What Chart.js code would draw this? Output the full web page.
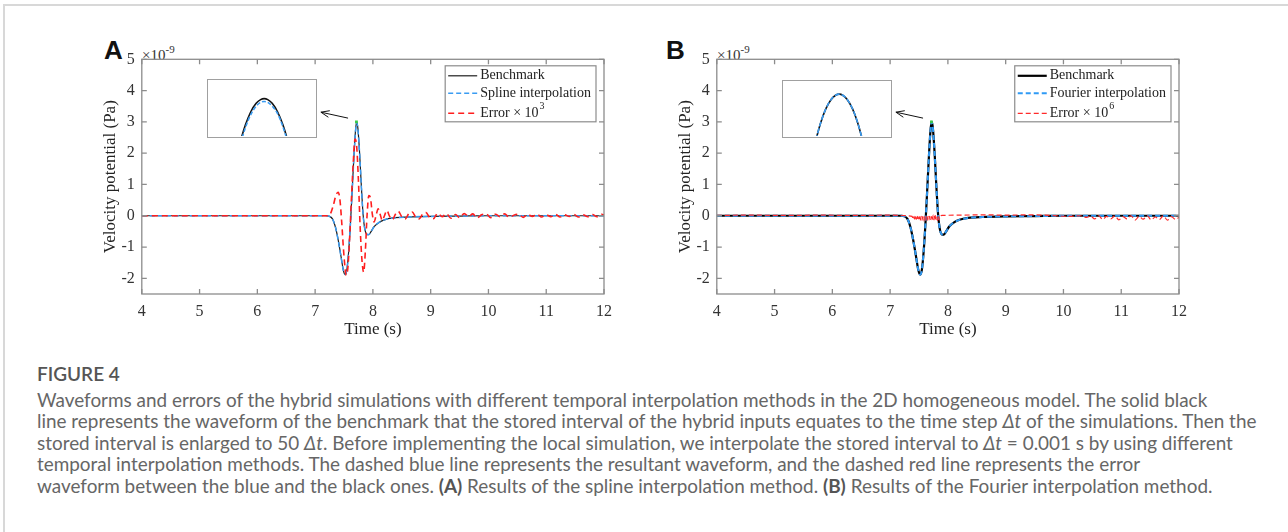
<!DOCTYPE html>
<html>
<head>
<meta charset="utf-8">
<script src="https://cdn.jsdelivr.net/npm/chart.js@4.4.0/dist/chart.umd.min.js"></script>
<style>
html, body { margin: 0; padding: 0; background: #fff; }
body { width: 1288px; height: 532px; position: relative; overflow: hidden; }
.frame { position: absolute; left: 3px; top: 4px; right: -4px; bottom: -4px; border-top: 2px solid #d8d8d8; border-left: 2px solid #d8d8d8; }
.panel { position: absolute; top: 30px; }
#panelA { left: 60px; }
#panelB { left: 635px; }
.inset { position: absolute; box-sizing: border-box; border: 1.5px solid #a0a0a0; background: #fff; }
.inset canvas { display: block; }
.tag { position: absolute; top: 37px; font: bold 26px "Liberation Sans", Arial, sans-serif; line-height: 1; color: #111; }
.exp { position: absolute; top: 44px; font: 15px "Liberation Serif", serif; line-height: 1; color: #333; }
.exp span { font-size: 11px; vertical-align: 7px; }
.figtitle { position: absolute; left: 37px; top: 363px; font: 600 19px Lato, "Open Sans", sans-serif; line-height: 1.2; color: #555; }
.caption { position: absolute; left: 37px; top: 389px; font-family: Lato, "Open Sans", sans-serif; font-size: 17px; line-height: 21.4px; color: #666; white-space: nowrap; }
.caption b { color: #555; }
</style>
</head>
<body>
<div class="frame"></div>

<div class="tag" style="left:104px">A</div>
<div class="tag" style="left:666px">B</div>
<div class="exp" style="left:142px">×10<span>-9</span></div>
<div class="exp" style="left:717px">×10<span>-9</span></div>

<canvas id="panelA" class="panel" width="560" height="330"></canvas>
<canvas id="panelB" class="panel" width="560" height="330"></canvas>

<div class="inset" style="left:207px; top:79px; width:110px; height:59px"><canvas id="insetA" width="107" height="56"></canvas></div>
<div class="inset" style="left:782px; top:80px; width:110px; height:58px"><canvas id="insetB" width="107" height="55"></canvas></div>

<div class="figtitle">FIGURE 4</div>
<div class="caption" id="caption">
<div>Waveforms and errors of the hybrid simulations with different temporal interpolation methods in the 2D homogeneous model. The solid black</div>
<div><span id="longLine">line represents the waveform of the benchmark that the stored interval of the hybrid inputs equates to the time step <i>Δt</i> of the simulations. Then the</span></div>
<div>stored interval is enlarged to 50 <i>Δt</i>. Before implementing the local simulation, we interpolate the stored interval to <i>Δt</i> = 0.001 s by using different</div>
<div>temporal interpolation methods. The dashed blue line represents the resultant waveform, and the dashed red line represents the error</div>
<div>waveform between the blue and the black ones. <b>(A)</b> Results of the spline interpolation method. <b>(B)</b> Results of the Fourier interpolation method.</div>
</div>

<script>
// axis ticks
const xTicks = [4, 5, 6, 7, 8, 9, 10, 11, 12];
const yTicks = [-2, -1, 0, 1, 2, 3, 4, 5];

// waveform samples (time in s, potential in 1e-9 Pa)
const tWave = [4, 7.2, 7.25, 7.3, 7.35, 7.4, 7.45, 7.49, 7.52, 7.55, 7.58, 7.61, 7.64, 7.67, 7.7, 7.72, 7.74, 7.77, 7.8, 7.83, 7.86, 7.9, 7.93, 7.97, 8.02, 8.1, 8.2, 8.35, 8.6, 9.0, 9.5, 10, 12];
const benchmark = [0, 0, -0.02, -0.1, -0.35, -0.78, -1.32, -1.75, -1.88, -1.72, -1.15, -0.3, 0.75, 1.85, 2.75, 3.0, 2.8, 2.0, 0.95, 0.05, -0.42, -0.6, -0.6, -0.5, -0.35, -0.22, -0.13, -0.07, -0.04, -0.02, -0.01, 0, 0];
const spline = [0, 0, -0.02, -0.1, -0.35, -0.79, -1.33, -1.75, -1.87, -1.71, -1.14, -0.3, 0.74, 1.83, 2.72, 2.97, 2.78, 1.99, 0.95, 0.05, -0.42, -0.59, -0.6, -0.5, -0.35, -0.22, -0.13, -0.07, -0.04, -0.02, -0.01, 0, 0];
const fourier = [0, 0, -0.02, -0.1, -0.35, -0.78, -1.32, -1.75, -1.88, -1.72, -1.15, -0.3, 0.75, 1.85, 2.75, 3.0, 2.8, 2.0, 0.95, 0.05, -0.42, -0.6, -0.6, -0.5, -0.35, -0.22, -0.13, -0.07, -0.04, -0.02, -0.01, 0, 0];

// error x 10^3 for spline, [t, value]
const errorA = [
	[4, 0], [7.2, 0], [7.26, 0.05], [7.31, 0.3], [7.36, 0.65], [7.4, 0.75], [7.43, 0.5], [7.46, -0.2],
	[7.5, -1.3], [7.54, -1.9], [7.57, -1.6], [7.6, -0.6], [7.63, 0.6], [7.66, 1.7], [7.69, 2.45], [7.72, 2.2],
	[7.75, 1.1], [7.78, -0.4], [7.81, -1.4], [7.84, -1.8], [7.87, -1.1], [7.9, 0.05], [7.93, 0.65], [7.96, 0.55],
	[7.99, 0.05], [8.02, -0.2], [8.06, 0.05], [8.09, 0.22], [8.13, 0.02], [8.16, -0.15], [8.2, 0], [8.24, 0.17],
	[8.29, -0.02], [8.34, -0.12], [8.39, 0.05], [8.44, 0.14], [8.5, -0.03], [8.56, -0.1], [8.62, 0.06], [8.68, 0.12],
	[8.74, -0.04], [8.8, -0.1], [8.86, 0.05], [8.92, 0.1], [8.98, -0.05], [9.05, -0.09], [9.12, 0.08], [9.2, -0.03],
	[9.27, 0.07], [9.35, -0.08], [9.43, 0.04], [9.5, -0.06], [9.58, 0.07], [9.66, -0.02], [9.73, 0.06], [9.8, -0.07],
	[9.88, 0.03], [9.96, 0.06], [10.04, -0.06], [10.12, 0.05], [10.2, -0.03], [10.28, 0.06], [10.36, -0.05], [10.44, 0.02],
	[10.52, 0.05], [10.6, -0.05], [10.68, 0.04], [10.76, -0.02], [10.84, 0.05], [10.92, -0.04], [11.0, 0.03], [11.08, -0.03],
	[11.16, 0.05], [11.24, -0.04], [11.32, 0.03], [11.4, -0.02], [11.48, 0.04], [11.56, -0.04], [11.64, 0.03], [11.72, -0.03],
	[11.8, 0.04], [11.88, -0.03], [11.96, 0.05], [12, 0.02]
];

// error x 10^6 for Fourier, [t, value]
const errorB = [
	[4, 0.01], [4.6, 0.02], [5.2, 0.01], [5.8, 0.02], [6.4, 0.01], [7.0, 0.02], [7.3, 0], [7.38, -0.02],
	[7.4, -0.12], [7.415, -0.02], [7.43, -0.15], [7.445, -0.03], [7.46, -0.16], [7.475, -0.02], [7.49, -0.15], [7.505, -0.03],
	[7.52, -0.17], [7.535, -0.02], [7.55, -0.15], [7.565, -0.03], [7.58, -0.16], [7.595, -0.02], [7.61, -0.14], [7.625, -0.03],
	[7.64, -0.15], [7.655, -0.02], [7.67, -0.14], [7.685, -0.02], [7.7, -0.14], [7.715, -0.03], [7.73, -0.15], [7.745, 0.02],
	[7.76, -0.13], [7.775, 0.05], [7.79, -0.12], [7.805, -0.02], [7.82, -0.15], [7.835, -0.02], [7.85, -0.13], [7.865, -0.02],
	[7.9, 0.01], [8.2, 0.02], [8.6, 0.03], [9.0, 0.02], [9.4, 0.03], [9.8, 0.01], [10.1, -0.02], [10.3, 0],
	[10.4, -0.05], [10.47, -0.01], [10.54, -0.1], [10.61, 0], [10.68, -0.12], [10.75, -0.02], [10.82, -0.1], [10.89, 0],
	[10.96, -0.13], [11.03, -0.03], [11.1, -0.1], [11.17, 0], [11.24, -0.14], [11.31, -0.02], [11.38, -0.11], [11.45, 0],
	[11.52, -0.13], [11.59, -0.04], [11.66, -0.12], [11.73, 0], [11.8, -0.14], [11.87, -0.03], [11.94, -0.12], [12, -0.05]
];

// zoomed peak shown in the insets
const tInset = [7.705, 7.708, 7.711, 7.714, 7.717, 7.7195, 7.7215, 7.7235, 7.726, 7.729, 7.732, 7.735, 7.738];
const insetBenchmark = [2.930, 2.953, 2.972, 2.986, 2.995, 2.999, 3.000, 2.999, 2.995, 2.986, 2.972, 2.953, 2.930];
const insetSpline = [2.927, 2.950, 2.969, 2.983, 2.992, 2.996, 2.997, 2.996, 2.992, 2.984, 2.970, 2.951, 2.928];
const insetFourier = [2.930, 2.953, 2.972, 2.986, 2.995, 2.999, 3.000, 2.999, 2.995, 2.986, 2.972, 2.953, 2.930];

const peakMark = [7.715, 3.0];
const arrowFrom = [7.57, 3.12];
const arrowTo = [7.1, 3.31];

const serif = '"Liberation Serif", "Times New Roman", serif';

const toPoints = (ts, vs) => ts.map((t, i) => ({ x: t, y: vs[i] }));
const pairPoints = (pairs) => pairs.map(([t, v]) => ({ x: t, y: v }));

/* frame with inward ticks on all four sides */
const boxTicks = {
	id: "boxTicks",
	afterDatasetsDraw(chart) {
		const { ctx, chartArea: a, scales: { x, y } } = chart;
		ctx.save();
		ctx.strokeStyle = "#8c8c8c";
		ctx.lineWidth = 1.3;
		ctx.strokeRect(a.left, a.top, a.right - a.left, a.bottom - a.top);
		ctx.beginPath();
		x.ticks.forEach((t) => {
			const px = x.getPixelForValue(t.value);
			ctx.moveTo(px, a.bottom); ctx.lineTo(px, a.bottom - 5);
			ctx.moveTo(px, a.top); ctx.lineTo(px, a.top + 5);
		});
		y.ticks.forEach((t) => {
			const py = y.getPixelForValue(t.value);
			ctx.moveTo(a.left, py); ctx.lineTo(a.left + 5, py);
			ctx.moveTo(a.right, py); ctx.lineTo(a.right - 5, py);
		});
		ctx.stroke();
		ctx.restore();
	}
};

/* legend box in the upper right corner, built from the datasets */
const legendBox = {
	id: "legendBox",
	afterDatasetsDraw(chart) {
		const { ctx, chartArea: a } = chart;
		const items = chart.data.datasets.filter((d) => d.label);
		const mainFont = "14px " + serif;
		const supFont = "10px " + serif;
		ctx.save();
		let textW = 0;
		items.forEach((d) => {
			ctx.font = mainFont;
			let w = ctx.measureText(d.label).width;
			if (d.sup) {
				ctx.font = supFont;
				w += ctx.measureText(d.sup).width + 1;
			}
			textW = Math.max(textW, w);
		});
		const lineLen = 29;
		const w = 3 + lineLen + 3 + textW + 5;
		const h = 56;
		const bx = a.right - 8 - w;
		const by = a.top + 6.5;
		const rows = [10, 27.5, 47.5];
		ctx.fillStyle = "#fff";
		ctx.fillRect(bx, by, w, h);
		ctx.strokeStyle = "#8c8c8c";
		ctx.lineWidth = 1.2;
		ctx.strokeRect(bx, by, w, h);
		items.forEach((d, i) => {
			const cy = by + rows[i];
			ctx.strokeStyle = d.borderColor;
			ctx.lineWidth = d.borderWidth;
			ctx.setLineDash(d.borderDash || []);
			ctx.beginPath();
			ctx.moveTo(bx + 3, cy);
			ctx.lineTo(bx + 3 + lineLen, cy);
			ctx.stroke();
			ctx.setLineDash([]);
			ctx.fillStyle = "#222";
			ctx.font = mainFont;
			ctx.textBaseline = "middle";
			const tx = bx + 3 + lineLen + 3;
			ctx.fillText(d.label, tx, cy);
			if (d.sup) {
				const lw = ctx.measureText(d.label).width;
				ctx.font = supFont;
				ctx.fillText(d.sup, tx + lw + 1, cy - 7);
			}
		});
		ctx.restore();
	}
};

/* arrow pointing from the peak to the inset */
const zoomArrow = {
	id: "zoomArrow",
	afterDatasetsDraw(chart) {
		const { ctx, scales: { x, y } } = chart;
		const x0 = x.getPixelForValue(arrowFrom[0]);
		const y0 = y.getPixelForValue(arrowFrom[1]);
		const x1 = x.getPixelForValue(arrowTo[0]);
		const y1 = y.getPixelForValue(arrowTo[1]);
		const ang = Math.atan2(y1 - y0, x1 - x0);
		ctx.save();
		ctx.strokeStyle = "#111";
		ctx.lineWidth = 1;
		ctx.beginPath();
		ctx.moveTo(x0, y0);
		ctx.lineTo(x1, y1);
		[-1, 1].forEach((s) => {
			ctx.moveTo(x1, y1);
			ctx.lineTo(x1 - 9 * Math.cos(ang + s * 0.38), y1 - 9 * Math.sin(ang + s * 0.38));
		});
		ctx.stroke();
		ctx.restore();
	}
};

function createPanel(canvasId, datasets) {
	const canvas = document.getElementById(canvasId);

	datasets.push({
		data: [{ x: peakMark[0], y: peakMark[1] }],
		showLine: false,
		pointRadius: 2,
		pointStyle: "rect",
		pointBackgroundColor: "#39c94a",
		pointBorderWidth: 0,
		order: 0
	});

	return new Chart(canvas, {
		type: "line",
		data: { datasets },
		options: {
			responsive: false,
			animation: false,
			layout: { padding: { top: 29.3, right: 12, left: 0, bottom: 0 } },
			plugins: { legend: { display: false }, tooltip: { enabled: false } },
			elements: {
				point: { radius: 0 },
				line: { cubicInterpolationMode: "monotone", borderCapStyle: "butt" }
			},
			scales: {
				x: {
					type: "linear",
					min: 4,
					max: 12,
					afterBuildTicks: (s) => { s.ticks = xTicks.map((v) => ({ value: v })); },
					afterFit: (s) => { s.height = 66; },
					grid: { display: false, drawTicks: false },
					border: { display: false },
					ticks: { padding: 8, color: "#333", font: { family: serif, size: 16 }, maxRotation: 0, autoSkip: false },
					title: { display: true, text: "Time (s)", color: "#222", font: { family: serif, size: 17 }, padding: { top: 0, bottom: 20 } }
				},
				y: {
					type: "linear",
					min: -2.5,
					max: 5,
					afterBuildTicks: (s) => { s.ticks = yTicks.map((v) => ({ value: v })); },
					afterFit: (s) => { s.width = 81.8; },
					grid: { display: false, drawTicks: false },
					border: { display: false },
					ticks: { padding: 7, color: "#333", font: { family: serif, size: 16 } },
					title: { display: true, text: "Velocity potential (Pa)", color: "#222", font: { family: serif, size: 17 }, padding: { top: 40, bottom: 0 } }
				}
			}
		},
		plugins: [boxTicks, legendBox, zoomArrow]
	});
}

function createInset(canvasId, datasets, yMin, yMax) {
	return new Chart(document.getElementById(canvasId), {
		type: "line",
		data: { datasets },
		options: {
			responsive: false,
			animation: false,
			layout: { padding: 0 },
			plugins: { legend: { display: false }, tooltip: { enabled: false } },
			elements: { point: { radius: 0 }, line: { cubicInterpolationMode: "monotone" } },
			scales: {
				x: { type: "linear", min: 7.69, max: 7.75, display: false },
				y: { type: "linear", min: yMin, max: yMax, display: false }
			}
		}
	});
}

/* Panel A: spline interpolation */
createPanel("panelA", [
	{ label: "Benchmark", data: toPoints(tWave, benchmark), borderColor: "#1e1e1e", borderWidth: 1.2, order: 3 },
	{ label: "Spline interpolation", data: toPoints(tWave, spline), borderColor: "#3a9cf2", borderWidth: 1.5, borderDash: [5, 3], order: 2 },
	{ label: "Error × 10", sup: "3", data: pairPoints(errorA), borderColor: "#ff1e1e", borderWidth: 1.6, borderDash: [6, 4], order: 1 }
]);

/* Panel B: Fourier interpolation */
createPanel("panelB", [
	{ label: "Benchmark", data: toPoints(tWave, benchmark), borderColor: "#000", borderWidth: 2.2, order: 3 },
	{ label: "Fourier interpolation", data: toPoints(tWave, fourier), borderColor: "#2f9af5", borderWidth: 2, borderDash: [5, 3], order: 2 },
	{ label: "Error × 10", sup: "6", data: pairPoints(errorB), borderColor: "#ff2a2a", borderWidth: 1.2, borderDash: [5, 3], order: 1 }
]);

createInset("insetA", [
	{ data: toPoints(tInset, insetBenchmark), borderColor: "#111", borderWidth: 1.6, order: 2 },
	{ data: toPoints(tInset, insetSpline), borderColor: "#3a9cf2", borderWidth: 1.6, borderDash: [4, 2], order: 1 }
], 2.96, 3.02);

createInset("insetB", [
	{ data: toPoints(tInset, insetBenchmark), borderColor: "#111", borderWidth: 1.6, order: 2 },
	{ data: toPoints(tInset, insetFourier), borderColor: "#3a9cf2", borderWidth: 1.6, borderDash: [5, 2], order: 1 }
], 2.96, 3.0126);

/* scale the caption font so the longest line spans the reference width */
const longLine = document.getElementById("longLine");
const captionEl = document.getElementById("caption");
const natural = longLine.getBoundingClientRect().width;
captionEl.style.fontSize = (17 * 1220 / natural).toFixed(2) + "px";
</script>
</body>
</html>
